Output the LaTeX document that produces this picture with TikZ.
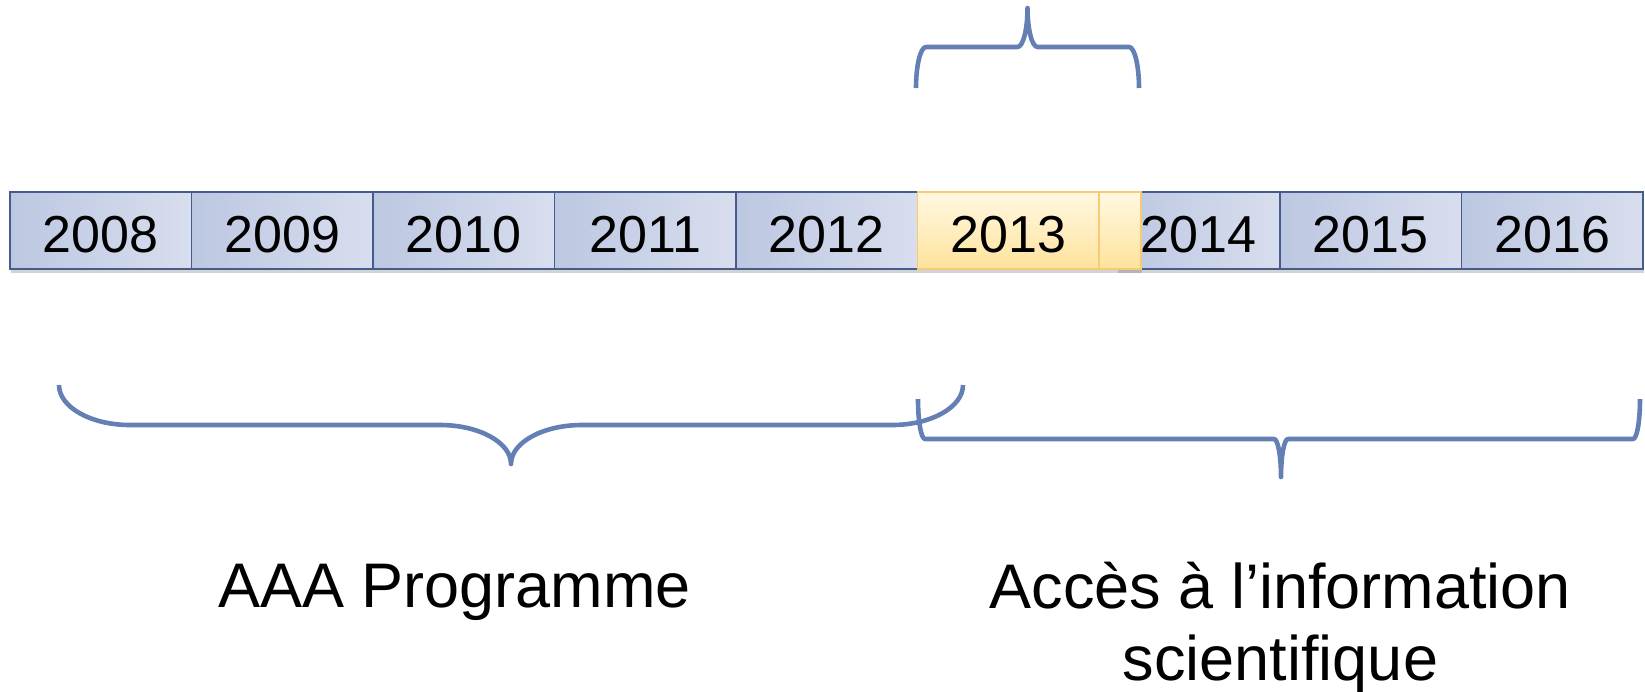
\documentclass[tikz,border=0pt]{standalone}
\usepackage{fontspec}
\setmainfont{Liberation Sans}
\usetikzlibrary{shadows}
\definecolor{bracecol}{RGB}{99,127,180}
\definecolor{boxborder}{RGB}{70,92,138}
\definecolor{boxleft}{RGB}{188,199,225}
\definecolor{boxright}{RGB}{216,222,238}
\definecolor{ylwborder}{RGB}{245,203,118}
\definecolor{ylwtop}{RGB}{255,248,226}
\definecolor{ylwbottom}{RGB}{255,227,156}
\begin{document}
\begin{tikzpicture}[x=1pt,y=-1pt,
  yearbox/.style={draw=boxborder, line width=1.8pt, left color=boxleft, right color=boxright,
    minimum height=77pt, inner sep=0pt, text height=50pt, text depth=6.5pt,
    font=\fontsize{52}{60}\selectfont,
    drop shadow={shadow xshift=1pt,shadow yshift=-4pt,opacity=0.35}},
  ylwbox/.style={yearbox, draw=ylwborder, top color=ylwtop, bottom color=ylwbottom},
  brace/.style={draw=bracecol, line width=4.6pt, line join=round},
  biglabel/.style={font=\fontsize{63}{72}\selectfont, inner sep=0pt}]
\useasboundingbox (0,0) rectangle (1645,691);
% year boxes
\node[yearbox, minimum width=181.5pt] (y2008) at (100.75,230.5) {2008};
\node[yearbox, minimum width=181.5pt] (y2009) at (282.25,230.5) {2009};
\node[yearbox, minimum width=181.5pt] (y2010) at (463.75,230.5) {2010};
\node[yearbox, minimum width=181.5pt] (y2011) at (645.25,230.5) {2011};
\node[yearbox, minimum width=181.5pt] (y2012) at (826.75,230.5) {2012};
\node[yearbox, minimum width=163pt] (y2014) at (1198.5,230.5) {2014};
\node[yearbox, minimum width=181.5pt] (y2015) at (1370.75,230.5) {2015};
\node[yearbox, minimum width=181.5pt] (y2016) at (1552.25,230.5) {2016};
\node[ylwbox, minimum width=42pt] (ext) at (1120,230.5) {};
\node[ylwbox, minimum width=181.5pt] (y2013) at (1008.25,230.5) {2013};
% top brace
\draw[brace] (916,88) .. controls (916,65.4) and (920.5,47) .. (926,47) -- (1017.5,47)
  .. controls (1023,47) and (1027.5,29.5) .. (1027.5,8)
  .. controls (1027.5,29.5) and (1032,47) .. (1037.5,47) -- (1129,47)
  .. controls (1134.5,47) and (1139,65.4) .. (1139,88);
% bottom left brace
\draw[brace] (59,385) .. controls (59,407.1) and (90.8,425) .. (130,425) -- (440,425)
  .. controls (479.2,425) and (511,442.5) .. (511,464)
  .. controls (511,442.5) and (542.8,425) .. (582,425) -- (892,425)
  .. controls (931.2,425) and (963,407.1) .. (963,385);
% bottom right brace
\draw[brace] (918,399) .. controls (918,421.1) and (921.1,439) .. (925,439) -- (1274,439)
  .. controls (1277.9,439) and (1281,456) .. (1281,477)
  .. controls (1281,456) and (1284.1,439) .. (1288,439) -- (1633,439)
  .. controls (1636.9,439) and (1640,421.1) .. (1640,399);
% labels
\node[biglabel, anchor=base] (aaa) at (454.5,607) {AAA Programme};
\node[biglabel, anchor=base, align=center] (acces) at (1280.5,680) {Accès à l’information\\scientifique};
\end{tikzpicture}
\end{document}
